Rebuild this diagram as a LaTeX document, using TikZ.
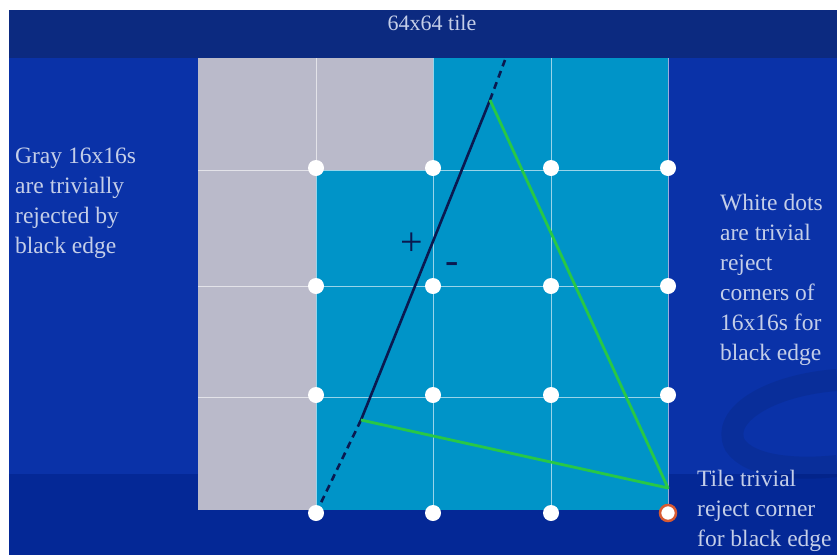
\documentclass[tikz,border=0pt]{standalone}
\usepackage{fontspec}
\setmainfont{Liberation Serif}
\definecolor{bgblue}{RGB}{10,50,168}
\definecolor{botblue}{RGB}{4,40,150}
\definecolor{hdrblue}{RGB}{12,42,128}
\definecolor{cellblue}{RGB}{0,148,200}
\definecolor{cellgray}{RGB}{186,186,202}
\definecolor{txtc}{RGB}{196,206,232}
\definecolor{edgec}{RGB}{10,25,80}
\definecolor{greenc}{RGB}{40,200,70}
\definecolor{ringc}{RGB}{215,90,50}
\tikzset{
  lbl/.style={text=txtc, font=\fontsize{23.5}{30}\selectfont, align=left, anchor=north west, inner sep=0pt},
  dotw/.style={circle, fill=white, inner sep=0pt, minimum size=16pt},
  gridl/.style={white, opacity=0.6, line width=0.9pt},
  pm/.style={text=edgec, font=\fontsize{40}{40}\selectfont, inner sep=0pt},
}
\begin{document}
\begin{tikzpicture}[x=1pt,y=-1pt]
\useasboundingbox (0,0) rectangle (837,555);
\fill[white] (0,0) rectangle (837,555);
\fill[bgblue] (9,10) rectangle (837,555);
\fill[botblue] (9,474) rectangle (837,555);
\fill[hdrblue] (9,10) rectangle (837,58);
% subtle swoosh
\draw[black, opacity=0.08, line width=22pt] (837,380) .. controls (770,385) and (720,415) .. (735,445) .. controls (750,468) and (800,470) .. (837,466);
\node[text=txtc, font=\fontsize{22}{24}\selectfont, inner sep=0pt] (title) at (432,23) {64x64 tile};
% tile cells
\fill[cellblue] (198,58) rectangle (668,510);
\fill[cellgray] (198,58) rectangle (433,170);
\fill[cellgray] (198,170) rectangle (316,510);
% grid lines
\foreach \x in {316,433,551} \draw[gridl] (\x,58) -- (\x,510);
\foreach \y in {170,286,397} \draw[gridl] (198,\y) -- (668,\y);
\draw[gridl] (668,58) -- (668,510);
% edge line
\coordinate (e0) at (316,513);
\coordinate (v2) at (361,420);
\coordinate (v1) at (490,100);
\coordinate (e1) at (505,60);
\coordinate (v3) at (668,488);
\draw[edgec, line width=2.6pt, dashed, dash pattern=on 7pt off 5pt] (e0) -- (v2);
\draw[edgec, line width=2.6pt] (v2) -- (v1);
\draw[edgec, line width=2.6pt, dashed, dash pattern=on 7pt off 5pt] (v1) -- (e1);
% triangle
\draw[greenc, line width=2.8pt, line join=round] (v1) -- (v3) -- (v2);
% plus minus
\node[pm] (plus) at (412,244) {+};
\node[pm] (minus) at (452,268) {-};
% dots
\foreach \x [count=\i] in {316,433,551,668}
  \foreach \y [count=\j] in {168,286,395,513}
    {\ifnum\i=4 \ifnum\j=4 \else \node[dotw] (d\i\j) at (\x,\y) {};\fi \else \node[dotw] (d\i\j) at (\x,\y) {};\fi}
\node[circle, fill=white, draw=ringc, line width=2.5pt, inner sep=0pt, minimum size=16pt] (d44) at (668,513) {};
% labels
\node[lbl] (lgray) at (15,148) {Gray 16x16s\\are trivially\\rejected by\\black edge};
\node[lbl] (lwhite) at (720,194) {White dots\\are trivial\\reject\\corners of\\16x16s for\\black edge};
\node[lbl] (ltile) at (697,470) {Tile trivial\\reject corner\\for black edge};
\end{tikzpicture}
\end{document}
